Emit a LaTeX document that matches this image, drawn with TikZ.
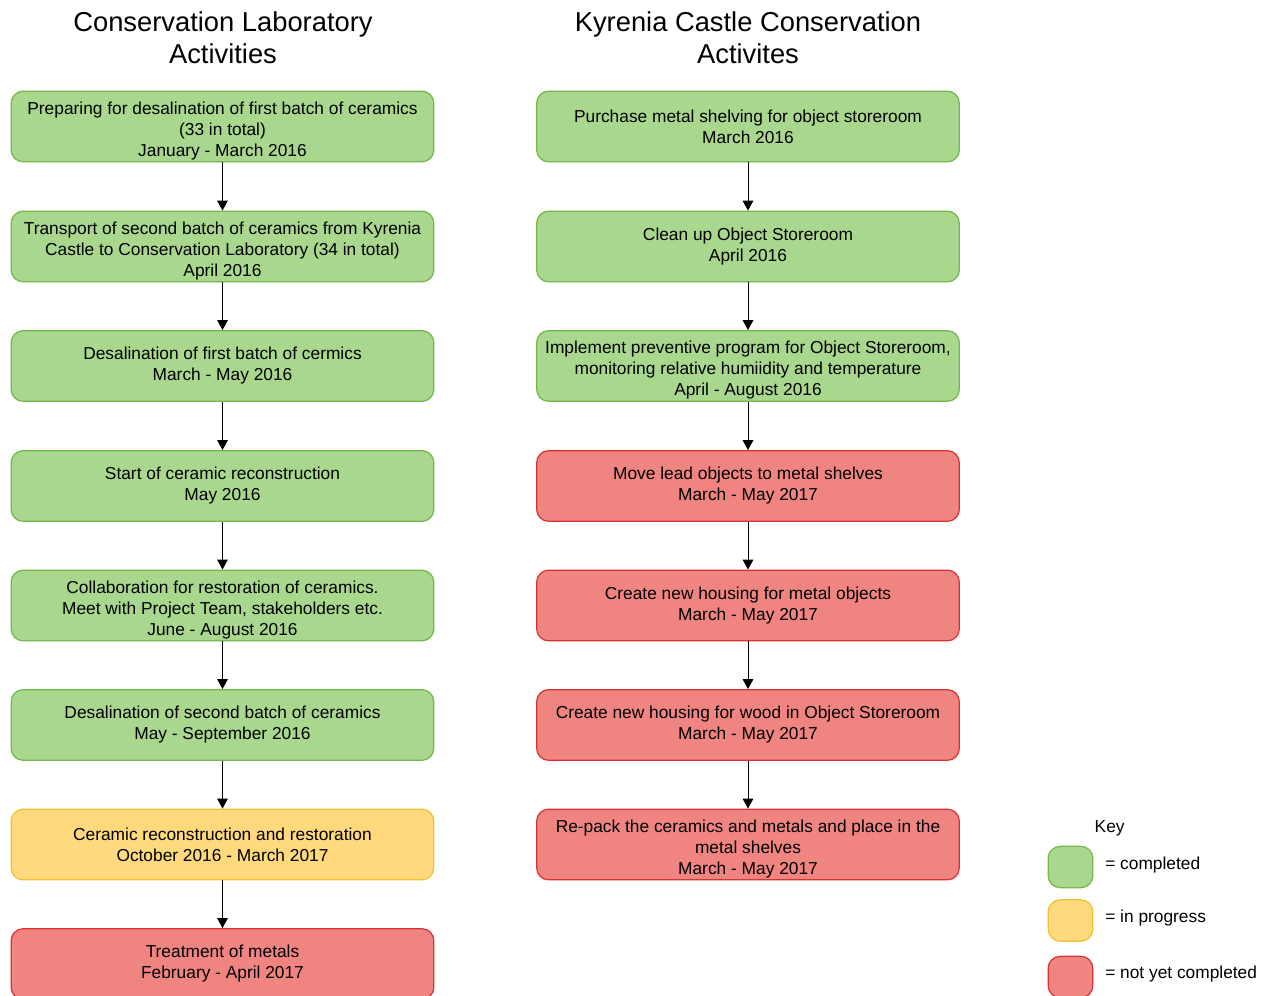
\documentclass[tikz,border=0pt]{standalone}
\usepackage{fontspec}
\setmainfont{Liberation Sans}
\usetikzlibrary{arrows.meta}
\usepackage{xcolor}
\definecolor{mygreen}{HTML}{A8D78D}
\definecolor{mygreenline}{HTML}{72B84A}
\definecolor{myyellow}{HTML}{FFD97C}
\definecolor{myyellowline}{HTML}{EFC033}
\definecolor{myred}{HTML}{EF8480}
\definecolor{myredline}{HTML}{D63333}
\newcommand{\topstrut}{\rule{0pt}{16pt}}

\begin{document}
\begin{tikzpicture}[x=0.75pt,y=-0.75pt,
    >={Triangle[width=8pt,length=7.5pt]},
    every node/.style={font=\fontsize{13}{15.75}\selectfont},
    task/.style={rounded corners=9pt,line width=0.9pt,align=center,
      minimum width=317pt,minimum height=53pt,inner sep=0pt},
    done/.style={task,fill=mygreen,draw=mygreenline},
    busy/.style={task,fill=myyellow,draw=myyellowline},
    todo/.style={task,fill=myred,draw=myredline},
    keybox/.style={rounded corners=9pt,line width=0.9pt,
      minimum width=33.5pt,minimum height=31pt,inner sep=0pt},
    title/.style={font=\fontsize{20.5}{24}\selectfont,align=center},
    flow/.style={->,line width=0.75pt}]

      \useasboundingbox (0,0) rectangle (1265,996);

      % TITLES
      \node[title] (ltitle) at (223,38) {Conservation Laboratory\\Activities};
      \node[title] (rtitle) at (748,38) {Kyrenia Castle Conservation\\Activites};

      % laboratory
      \node[done] (l1) at (222.5,126.5) {\topstrut Preparing for desalination of first batch of ceramics\\(33 in total)\\January - March 2016};
      \node[done] (l2) at (222.5,246.5) {\topstrut Transport of second batch of ceramics from Kyrenia\\Castle to Conservation Laboratory (34 in total)\\April 2016};
      \node[done] (l3) at (222.5,366) {Desalination of first batch of cermics\\March - May 2016};
      \node[done] (l4) at (222.5,486) {Start of ceramic reconstruction\\May 2016};
      \node[done] (l5) at (222.5,605.5) {\topstrut Collaboration for restoration of ceramics.\\Meet with Project Team, stakeholders etc.\\June - August 2016};
      \node[done] (l6) at (222.5,725) {Desalination of second batch of ceramics\\May - September 2016};
      \node[busy] (l7) at (222.5,844.5) {Ceramic reconstruction and restoration\\October 2016 - March 2017};
      \node[todo] (l8) at (222.5,964) {Treatment of metals\\February - April 2017};

      % castle
      \node[done] (r1) at (748,126.5) {Purchase metal shelving for object storeroom\\March 2016};
      \node[done] (r2) at (748,246.5) {Clean up Object Storeroom\\April 2016};
      \node[done] (r3) at (748,366) {\topstrut Implement preventive program for Object Storeroom,\\monitoring relative humiidity and temperature\\April - August 2016};
      \node[todo] (r4) at (748,486) {Move lead objects to metal shelves\\March - May 2017};
      \node[todo] (r5) at (748,605.5) {Create new housing for metal objects\\March - May 2017};
      \node[todo] (r6) at (748,725) {Create new housing for wood in Object Storeroom\\March - May 2017};
      \node[todo] (r7) at (748,844.5) {\topstrut Re-pack the ceramics and metals and place in the\\metal shelves\\March - May 2017};

      % arrows
      \draw[flow] (l1) -- (l2);
      \draw[flow] (l2) -- (l3);
      \draw[flow] (l3) -- (l4);
      \draw[flow] (l4) -- (l5);
      \draw[flow] (l5) -- (l6);
      \draw[flow] (l6) -- (l7);
      \draw[flow] (l7) -- (l8);

      \draw[flow] (r1) -- (r2);
      \draw[flow] (r2) -- (r3);
      \draw[flow] (r3) -- (r4);
      \draw[flow] (r4) -- (r5);
      \draw[flow] (r5) -- (r6);
      \draw[flow] (r6) -- (r7);

      % key
      \node[anchor=west] (keytitle) at (1090,828) {Key};
      \node[keybox,fill=mygreen,draw=mygreenline] (kdone) at (1070.5,867) {};
      \node[keybox,fill=myyellow,draw=myyellowline] (kbusy) at (1070.5,920.5) {};
      \node[keybox,fill=myred,draw=myredline] (ktodo) at (1070.5,977) {};
      \node[anchor=west,inner sep=0pt] (kdonet) at (1105,865) {= completed};
      \node[anchor=west,inner sep=0pt] (kbusyt) at (1105,918.5) {= in progress};
      \node[anchor=west,inner sep=0pt] (ktodot) at (1105,974.5) {= not yet completed};

\end{tikzpicture}
\end{document}
